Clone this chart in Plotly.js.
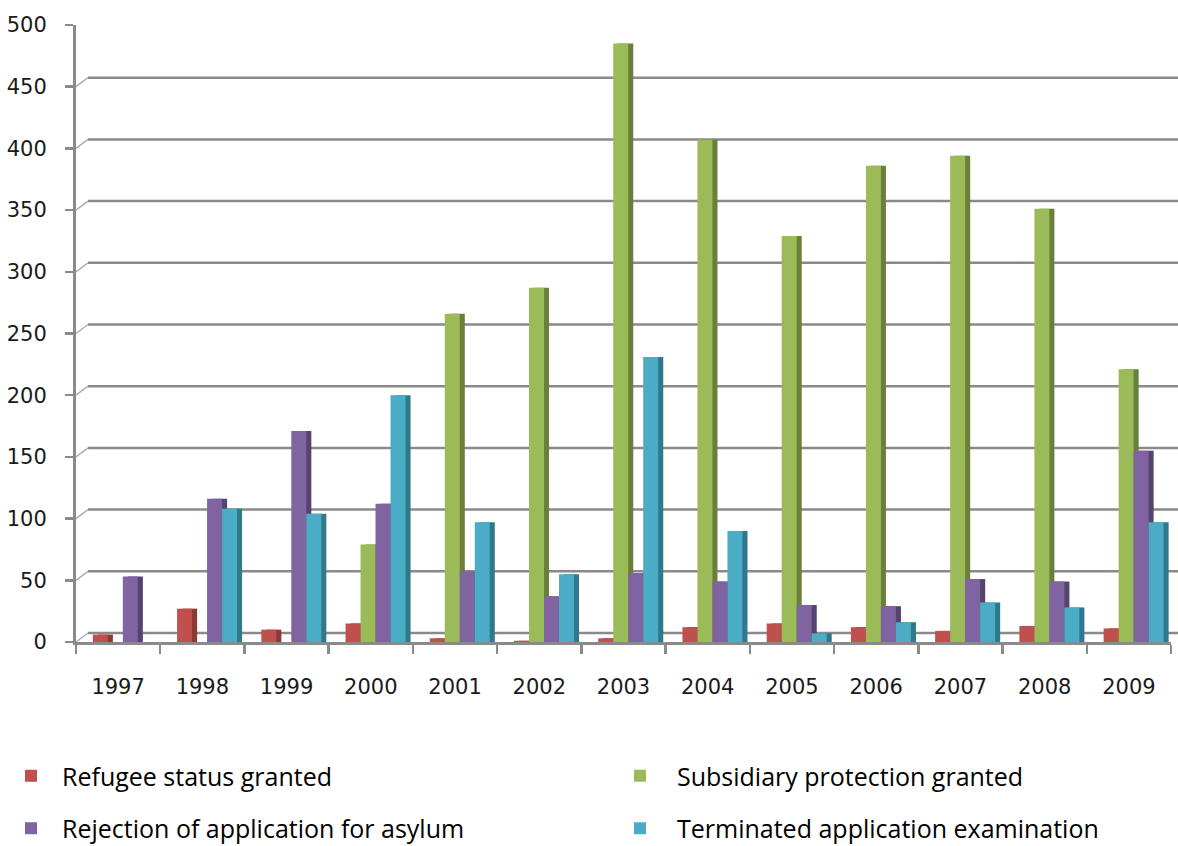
<!DOCTYPE html>
<html>
<head>
<meta charset="utf-8">
<script src="https://cdn.plot.ly/plotly-3.0.1.min.js"></script>
<style>
  html, body { margin: 0; padding: 0; background: #ffffff; }
  #chart { width: 1178px; height: 846px; }
</style>
</head>
<body>
<div id="chart"></div>
<script>
const years = ["1997","1998","1999","2000","2001","2002","2003","2004","2005","2006","2007","2008","2009"];
const refugeeStatus = [6, 27, 10, 15, 3, 1, 3, 12, 15, 12, 9, 13, 11];
const subsidiaryProtection = [0, 0, 0, 79, 266, 287, 485, 407, 329, 386, 394, 351, 221];
const rejection = [53, 116, 171, 112, 57, 37, 56, 49, 30, 29, 51, 49, 155];
const terminated = [0, 108, 104, 200, 97, 55, 231, 90, 7, 16, 32, 28, 97];
const yTicks = [0, 50, 100, 150, 200, 250, 300, 350, 400, 450, 500];

const seriesNames = ["Refugee status granted", "Subsidiary protection granted",
                     "Rejection of application for asylum", "Terminated application examination"];
const seriesData = [refugeeStatus, subsidiaryProtection, rejection, terminated];
const frontColors = ["#C0504D", "#9BBB59", "#8064A2", "#4BACC6"];
const sideColors  = ["#8C3836", "#6A7F3B", "#554370", "#30788B"];
const legendIds = ["legend", "legend2", "legend", "legend2"];

const barW = 0.178;
const startOff = -0.30;
const sideShift = 0.06;

const traces = [];
seriesData.forEach((vals, i) => {
  traces.push({
    type: "bar", x: years, y: vals,
    width: barW, offset: startOff + i * barW + sideShift,
    marker: { color: sideColors[i], line: { width: 0 } },
    showlegend: false, hoverinfo: "skip"
  });
});
seriesData.forEach((vals, i) => {
  traces.push({
    type: "bar", x: years, y: vals, name: seriesNames[i],
    width: barW, offset: startOff + i * barW,
    marker: { color: frontColors[i], line: { width: 0 } },
    legend: legendIds[i], legendgroup: "g" + i
  });
});

const shapes = [];
const wallDx = 12, wallDy = 9;
yTicks.forEach(v => {
  shapes.push({
    type: "line", xref: "paper", yref: "y",
    xsizemode: "pixel", xanchor: 0, x0: wallDx, x1: wallDx + 1120,
    ysizemode: "pixel", yanchor: v, y0: wallDy, y1: wallDy,
    line: { color: "#8A8A8A", width: 2.5 }, layer: "below"
  });
  shapes.push({
    type: "line", xref: "paper", yref: "y",
    xsizemode: "pixel", xanchor: 0, x0: 0, x1: wallDx,
    ysizemode: "pixel", yanchor: v, y0: 0, y1: wallDy,
    line: { color: "#B0B0B0", width: 1.5 }, layer: "below"
  });
});

const legendFont = { family: "Open Sans, Noto Sans, sans-serif", size: 25, color: "#000000" };

const layout = {
  width: 1178, height: 846,
  margin: { l: 76, r: 7, t: 25, b: 204, autoexpand: false },
  paper_bgcolor: "#ffffff", plot_bgcolor: "#ffffff",
  barmode: "overlay",
  showlegend: true,
  xaxis: {
    type: "category", range: [-0.5, 12.5], automargin: false, tickangle: 0,
    showline: true, linecolor: "#8A8A8A", linewidth: 3,
    ticks: "outside", tickson: "boundaries", ticklen: 9, tickwidth: 2.5, tickcolor: "#8A8A8A",
    ticklabelstandoff: 24,
    tickfont: { family: "DejaVu Sans, Verdana, sans-serif", size: 21, color: "#1a1a1a" },
    showgrid: false, zeroline: false, fixedrange: true
  },
  yaxis: {
    range: [0, 500], tickvals: yTicks, automargin: false,
    showline: true, linecolor: "#8A8A8A", linewidth: 3,
    ticks: "outside", ticklen: 8, tickwidth: 2.5, tickcolor: "#8A8A8A",
    ticklabelstandoff: 14,
    tickfont: { family: "DejaVu Sans, Verdana, sans-serif", size: 21, color: "#1a1a1a" },
    showgrid: false, zeroline: false, fixedrange: true
  },
  legend: {
    xref: "container", yref: "container",
    x: 0, y: 1 - 753 / 846, xanchor: "left", yanchor: "top",
    orientation: "v", tracegroupgap: 17, traceorder: "grouped",
    font: legendFont, bgcolor: "rgba(0,0,0,0)", itemwidth: 52
  },
  legend2: {
    xref: "container", yref: "container",
    x: 603 / 1178, y: 1 - 753 / 846, xanchor: "left", yanchor: "top",
    orientation: "v", tracegroupgap: 17, traceorder: "grouped",
    font: legendFont, bgcolor: "rgba(0,0,0,0)", itemwidth: 64
  },
  shapes: shapes
};

Plotly.newPlot("chart", traces, layout, { displayModeBar: false, staticPlot: true });
</script>
</body>
</html>
